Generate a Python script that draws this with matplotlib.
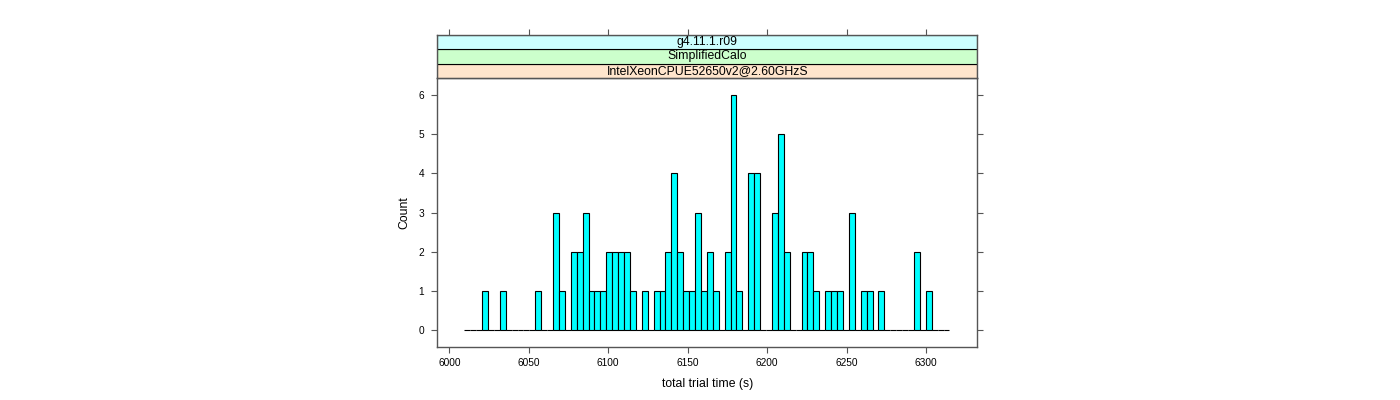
import numpy as np
import matplotlib
matplotlib.use('Agg')
import matplotlib.pyplot as plt
from matplotlib.patches import Rectangle

plt.rcParams['font.family'] = ['Liberation Sans', 'DejaVu Sans']

# histogram of total trial time, 82 equal bins
hist_lo = 6009.4
hist_hi = 6314.8
counts = [0, 0, 0, 1, 0, 0, 1, 0, 0, 0, 0, 0, 1, 0, 0, 3, 1, 0, 2, 2,
          3, 1, 1, 1, 2, 2, 2, 2, 1, 0, 1, 0, 1, 1, 2, 4, 2, 1, 1, 3,
          1, 2, 1, 0, 2, 6, 1, 0, 4, 4, 0, 0, 3, 5, 2, 0, 0, 2, 2, 1,
          0, 1, 1, 1, 0, 3, 0, 1, 1, 0, 1, 0, 0, 0, 0, 0, 2, 0, 1, 0,
          0, 0]
x_ticks = [6000, 6050, 6100, 6150, 6200, 6250, 6300]
y_ticks = [0, 1, 2, 3, 4, 5, 6]
strip_labels = ['IntelXeonCPUE52650v2@2.60GHzS', 'SimplifiedCalo', 'g4.11.1.r09']
strip_colors = ['#ffe5cc', '#ccffcc', '#ccffff']

edges = np.linspace(hist_lo, hist_hi, len(counts) + 1)
xlim = (5992.4, 6332.3)
axis_col = '#555555'

fig = plt.figure(figsize=(14, 4), dpi=100)
ax = fig.add_axes([437.3 / 1400, 53.3 / 400, 540 / 1400, 268.4 / 400])
ax.bar(edges[:-1], counts, width=np.diff(edges), align='edge',
       color='#00ffff', edgecolor='black', linewidth=0.8)
ax.set_xlim(xlim)
ax.set_ylim(-0.42, 6.42)
ax.set_xticks(x_ticks)
ax.set_yticks(y_ticks)
ax.tick_params(axis='both', direction='out', length=4, width=0.8, color=axis_col,
               labelsize=7.3, right=True, top=False)
ax.tick_params(axis='y', pad=5.5)
ax.tick_params(axis='x', pad=4)
for s in ax.spines.values():
    s.set_color(axis_col)
    s.set_linewidth(1)
ax.set_xlabel('total trial time (s)', fontsize=8.8, labelpad=7)
ax.set_ylabel('Count', fontsize=8.8, labelpad=6)

# strips on top of the panel
sax = fig.add_axes([437.3 / 1400, 321.7 / 400, 540 / 1400, 43.6 / 400])
sax.set_xlim(xlim)
sax.set_ylim(0, len(strip_labels))
for i, (lab, col) in enumerate(zip(strip_labels, strip_colors)):
    sax.add_patch(Rectangle((xlim[0], i), xlim[1] - xlim[0], 1,
                            facecolor=col, edgecolor='black', linewidth=0.8))
    sax.text(np.mean(xlim), i + 0.5, lab, ha='center', va='center', fontsize=8.8)
sax.set_xticks(x_ticks)
sax.set_yticks([])
sax.tick_params(axis='x', direction='out', length=4, width=0.8, color=axis_col,
                top=True, bottom=False, labeltop=False, labelbottom=False)
for s in sax.spines.values():
    s.set_color(axis_col)
    s.set_linewidth(1)

fig.savefig('out.png', dpi=100)
